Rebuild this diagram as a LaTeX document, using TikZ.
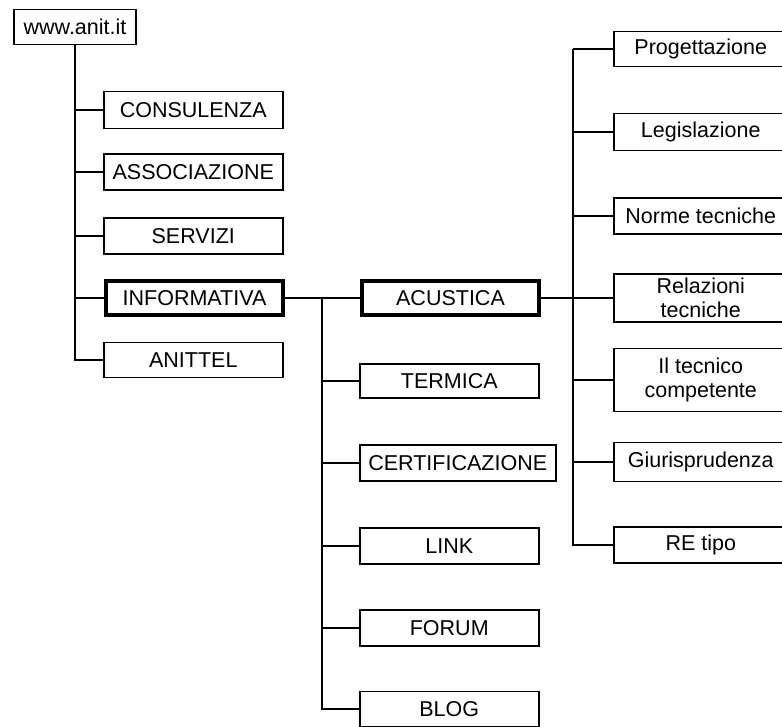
\documentclass[tikz,border=0pt]{standalone}
\usepackage{fontspec}
\setmainfont{Liberation Sans}
\newcommand\rtext[1]{\parbox{174pt}{\centering #1}\hspace*{30pt}}
\begin{document}
\begin{tikzpicture}[x=1pt,y=-1pt,
  box/.style={draw, line width=1.5pt, fill=white, inner sep=0pt,
    minimum height=36pt, font=\fontsize{21.5}{24}\selectfont, align=center},
  leftbox/.style={box, anchor=west, minimum width=179pt},
  midbox/.style={box, anchor=west, minimum width=179pt},
  rightbox/.style={draw, line width=1.5pt, fill=white, inner sep=0pt,
    minimum height=36pt, font=\fontsize{21.5}{24}\selectfont, anchor=west},
  thickbox/.style={line width=4pt},
  conn/.style={draw, line width=1.5pt}]
\fill[white] (0,0) rectangle (782,726);
\useasboundingbox (0,0) rectangle (782,726);

% root
\node[box, minimum width=122pt, minimum height=35pt] (www) at (75,27) {www.anit.it};

% first level
\node[leftbox, minimum height=37pt] (cons) at (103,110) {CONSULENZA};
\node[leftbox] (assoc) at (103,172) {ASSOCIAZIONE};
\node[leftbox] (serv) at (103,236) {SERVIZI};
\node[leftbox, thickbox, minimum width=177pt, minimum height=34pt] (info) at (104,298) {INFORMATIVA};
\node[leftbox, minimum height=35pt] (anittel) at (103,360) {ANITTEL};

% second level
\node[midbox, thickbox, minimum width=177pt, minimum height=34pt] (acus) at (360,298) {ACUSTICA};
\node[midbox, minimum height=34pt] (term) at (359,381) {TERMICA};
\node[midbox, minimum width=196pt] (cert) at (359,463) {CERTIFICAZIONE};
\node[midbox] (link) at (359,546) {LINK};
\node[midbox] (forum) at (359,628) {FORUM};
\node[midbox, minimum height=35pt] (blog) at (359,709) {BLOG};

% third level
\node[rightbox, minimum height=35pt] (prog) at (613,49) {\rtext{Progettazione}};
\node[rightbox, minimum height=37pt] (legis) at (613,132) {\rtext{Legislazione}};
\node[rightbox] (norme) at (613,216) {\rtext{Norme tecniche}};
\node[rightbox, minimum height=48pt] (relaz) at (613,298) {\rtext{Relazioni\\tecniche}};
\node[rightbox, minimum height=63pt] (tecn) at (613,380) {\rtext{Il tecnico\\competente}};
\node[rightbox, minimum height=39pt] (giur) at (613,462) {\rtext{Giurisprudenza}};
\node[rightbox] (retipo) at (613,545) {\rtext{RE tipo}};

% connectors level 1
\draw[conn] (www.south) |- (cons.west);
\draw[conn] (www.south) |- (assoc.west);
\draw[conn] (www.south) |- (serv.west);
\draw[conn] (www.south) |- (info.west);
\draw[conn] (www.south) |- (anittel.west);

% connectors level 2
\draw[conn] (info.east) -- (acus.west);
\coordinate (mt) at (322,298);
\draw[conn] (mt) |- (term.west);
\draw[conn] (mt) |- (cert.west);
\draw[conn] (mt) |- (link.west);
\draw[conn] (mt) |- (forum.west);
\draw[conn] (mt) |- (blog.west);

% connectors level 3
\draw[conn] (acus.east) -- (relaz.west);
\coordinate (rt) at (573,49);
\draw[conn] (rt) -- (prog.west);
\draw[conn] (rt) |- (legis.west);
\draw[conn] (rt) |- (norme.west);
\draw[conn] (rt) |- (relaz.west);
\draw[conn] (rt) |- (tecn.west);
\draw[conn] (rt) |- (giur.west);
\draw[conn] (rt) |- (retipo.west);
\end{tikzpicture}
\end{document}
